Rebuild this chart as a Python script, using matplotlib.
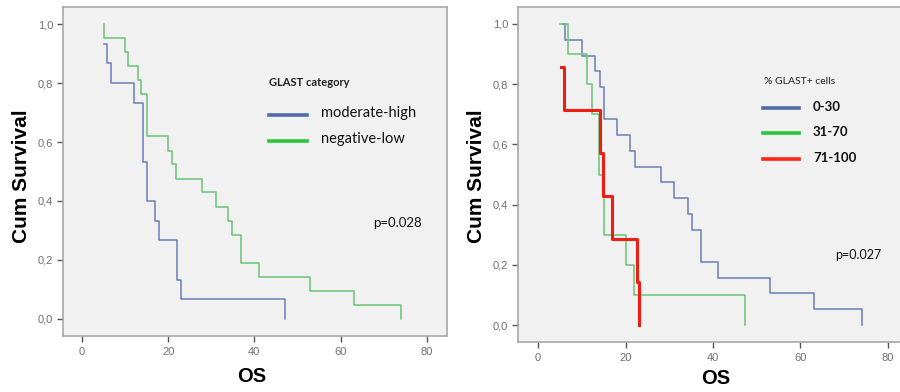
import matplotlib
matplotlib.use("Agg")
import matplotlib.pyplot as plt
from matplotlib.ticker import FixedLocator, FixedFormatter
from matplotlib.lines import Line2D

# ---------------- data ----------------
# Left panel: GLAST category
left_mh_t = [5.2, 5.9, 6.7, 12.0, 14.1, 15.0, 16.9, 17.9, 22.1, 22.9, 47.0]
left_mh_s = [0.933, 0.867, 0.800, 0.733, 0.533, 0.400, 0.333, 0.267, 0.133, 0.067, 0.0]
left_nl_t = [5.2, 5.2, 10.0, 10.7, 12.9, 13.8, 15.0, 20.0, 21.0, 21.8, 27.9, 31.1,
             33.9, 34.9, 36.8, 41.1, 53.0, 63.1, 74.0]
left_nl_s = [1.0, 0.952, 0.905, 0.857, 0.810, 0.762, 0.619, 0.571, 0.524, 0.476, 0.429,
             0.381, 0.333, 0.286, 0.190, 0.143, 0.095, 0.048, 0.0]

# Right panel: % GLAST+ cells
right_030_t = [5.8, 6.1, 10.0, 13.1, 14.2, 15.0, 18.0, 21.1, 22.2, 28.0, 31.0, 34.2,
               35.1, 37.3, 41.2, 53.0, 63.1, 74.1]
right_030_s = [1.0, 0.947, 0.895, 0.842, 0.789, 0.684, 0.632, 0.579, 0.526, 0.474, 0.421,
               0.368, 0.316, 0.211, 0.158, 0.105, 0.053, 0.0]
right_3170_t = [5.0, 6.9, 11.1, 12.3, 14.0, 15.1, 20.1, 22.0, 47.2]
right_3170_s = [1.0, 0.9, 0.8, 0.7, 0.5, 0.3, 0.2, 0.1, 0.0]
right_71100_t = [5.2, 5.9, 14.2, 14.9, 16.8, 22.6, 23.1]
right_71100_s = [0.857, 0.714, 0.571, 0.429, 0.286, 0.143, 0.0]

left_labels = ["moderate-high", "negative-low"]
right_labels = ["0-30", "31-70", "71-100"]
left_title = "GLAST category"
right_title = "% GLAST+ cells"
left_p = "p=0.028"
right_p = "p=0.027"

xticks = [0, 20, 40, 60, 80]
xtick_labels = ["0", "20", "40", "60", "80"]
yticks = [0.0, 0.2, 0.4, 0.6, 0.8, 1.0]
ytick_labels = ["0,0", "0,2", "0,4", "0,6", "0,8", "1,0"]

# ---------------- style ----------------
BLUE = "#6a7fb4"
GREEN = "#68c374"
RED = "#f01e12"
LEG_BLUE = "#4f6da3"
LEG_GREEN = "#2bc63a"
LEG_RED = "#ff2414"
FACE = "#f1f1f1"
SPINE = "#a8a8a8"
FONT = ["Lato", "DejaVu Sans"]

W, H = 900, 392
fig = plt.figure(figsize=(W / 100, H / 100), dpi=100)
fig.patch.set_facecolor("white")


def fx(px):
    return px / W


def fy(py):
    return 1 - py / H


def style_axes(ax, xlim, ylim):
    ax.set_facecolor(FACE)
    ax.set_xlim(*xlim)
    ax.set_ylim(*ylim)
    for sp in ax.spines.values():
        sp.set_color(SPINE)
        sp.set_linewidth(1.2)
    ax.xaxis.set_major_locator(FixedLocator(xticks))
    ax.xaxis.set_major_formatter(FixedFormatter(xtick_labels))
    ax.yaxis.set_major_locator(FixedLocator(yticks))
    ax.yaxis.set_major_formatter(FixedFormatter(ytick_labels))
    ax.tick_params(axis="both", direction="out", length=4.5, width=1.0,
                   color="#555555", labelcolor="#707070", labelsize=8)
    ax.tick_params(axis="x", pad=3.5)
    ax.tick_params(axis="y", pad=2.5)
    for lab in ax.get_xticklabels() + ax.get_yticklabels():
        lab.set_family(["Liberation Sans", "DejaVu Sans"])


# Left axes
axL = fig.add_axes([fx(63), fy(336), fx(447 - 63), (336 - 7) / H])
style_axes(axL, (-4.4, 84.7), (-0.058, 1.058))
axL.plot(left_mh_t, left_mh_s, drawstyle="steps-post", color=BLUE, lw=1.1)
axL.plot(left_nl_t, left_nl_s, drawstyle="steps-post", color=GREEN, lw=1.1)

# Right axes
axR = fig.add_axes([fx(518), fy(342), fx(905 - 518), (342 - 7) / H])
style_axes(axR, (-4.6, 83.9), (-0.056, 1.056))
axR.plot(right_030_t, right_030_s, drawstyle="steps-post", color=BLUE, lw=1.1)
axR.plot(right_3170_t, right_3170_s, drawstyle="steps-post", color=GREEN, lw=1.1)
axR.plot(right_71100_t, right_71100_s, drawstyle="steps-post", color=RED, lw=2.2)

# Axis labels
for xc in (22, 477):
    fig.text(fx(xc), fy(176), "Cum Survival", rotation=90, ha="center", va="center",
             fontsize=15, fontweight="bold", family=["Liberation Sans", "DejaVu Sans"])
fig.text(fx(252), fy(376), "OS", ha="center", va="center", fontsize=14.5,
         fontweight="bold", family=["Liberation Sans", "DejaVu Sans"])
fig.text(fx(716), fy(378), "OS", ha="center", va="center", fontsize=14.5,
         fontweight="bold", family=["Liberation Sans", "DejaVu Sans"])

# Left legend
fig.text(fx(269), fy(83), left_title, ha="left", va="center", fontsize=8,
         fontweight="bold", family=FONT, color="#222222")
for (yy, col, lab) in [(115, LEG_BLUE, left_labels[0]), (141, LEG_GREEN, left_labels[1])]:
    fig.add_artist(Line2D([fx(269), fx(307)], [fy(yy), fy(yy)], color=col, lw=2.6))
    fig.text(fx(321), fy(yy - 2), lab, ha="left", va="center", fontsize=10.5,
             family=FONT, color="#111111")
fig.text(fx(373), fy(223), left_p, ha="left", va="center", fontsize=9.5,
         family=FONT, color="#111111")

# Right legend
fig.text(fx(764), fy(81), right_title, ha="left", va="center", fontsize=7.5,
         family=FONT, color="#222222")
for (yy, col, lab) in [(108, LEG_BLUE, right_labels[0]), (133, LEG_GREEN, right_labels[1]),
                       (159, LEG_RED, right_labels[2])]:
    fig.add_artist(Line2D([fx(763), fx(799)], [fy(yy), fy(yy)], color=col, lw=2.6))
    fig.text(fx(813), fy(yy - 1), lab, ha="left", va="center", fontsize=9.5,
             fontweight="bold", family=FONT, color="#111111")
fig.text(fx(835), fy(255), right_p, ha="left", va="center", fontsize=9,
         family=FONT, color="#111111")

fig.savefig("out.png", dpi=100, facecolor="white")
